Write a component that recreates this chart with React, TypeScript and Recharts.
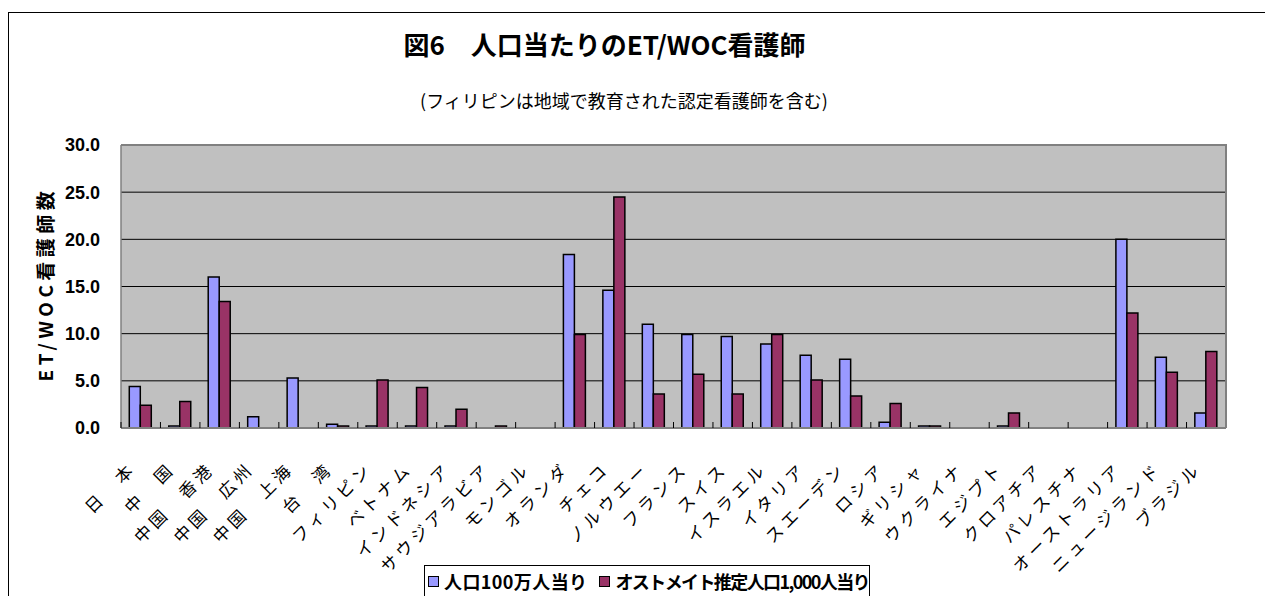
import React from "react"
import { BarChart, Bar, XAxis, YAxis, CartesianGrid, Legend } from "recharts"

const categories = [
  "日　本", "中　国", "中国　香港", "中国　広州", "中国　上海", "台　湾",
  "フィリピン", "ベトナム", "インドネシア", "サウジアラビア", "モンゴル",
  "オランダ", "チェコ", "ノルウエー", "フランス", "スイス", "イスラエル",
  "イタリア", "スエーデン", "ロシア", "ギリシャ", "ウクライナ", "エジプト",
  "クロアチア", "パレスチナ", "オーストラリア", "ニュージランド", "ブラジル",
]

// 人口100万人当り
const perMillion = [
  4.4, 0.2, 16.0, 1.2, 5.3, 0.4, 0.2, 0.2, 0.2, 0, 0, 18.4, 14.6, 11.0,
  9.9, 9.7, 8.9, 7.7, 7.3, 0.6, 0.2, 0, 0.2, 0, 0, 20.0, 7.5, 1.6,
]

// オストメイト推定人口1,000人当り
const perOstomate = [
  2.4, 2.8, 13.4, 0, 0, 0.2, 5.1, 4.3, 2.0, 0.2, 0, 9.9, 24.5, 3.6,
  5.7, 3.6, 9.9, 5.1, 3.4, 2.6, 0.2, 0, 1.6, 0, 0, 12.2, 5.9, 8.1,
]

const yTicks = [0, 5, 10, 15, 20, 25, 30]
const gridValues = [5, 10, 15, 20, 25]

const seriesNames = ["人口100万人当り", "オストメイト推定人口1,000人当り"]

const data = categories.map((name, i) => ({
  name,
  a: perMillion[i],
  b: perOstomate[i],
}))

const PLOT_LEFT = 121
const PLOT_RIGHT = 1226
const PLOT_TOP = 145
const PLOT_BOTTOM = 428
const BAND = (PLOT_RIGHT - PLOT_LEFT) / categories.length
const LEGEND_H = 40

const JP = '"Noto Sans CJK JP", "Noto Sans", sans-serif'

function XTick(props: any) {
  const { x, y, payload, index } = props
  const left = x - BAND / 2
  const last = index === categories.length - 1
  return (
    <g>
      <line x1={left} x2={left} y1={y} y2={y - 6} stroke="#000" strokeWidth={1} />
      {last && (
        <line x1={left + BAND} x2={left + BAND} y1={y} y2={y - 6} stroke="#000" strokeWidth={1} />
      )}
      <text
        transform={`translate(${x - 4},${y + 42}) rotate(-45)`}
        textAnchor="end"
        fontSize={17}
        letterSpacing={4}
        fontFamily={JP}
        fill="#000"
      >
        {payload.value}
      </text>
    </g>
  )
}

function LegendBox() {
  const colors = ["#9999FF", "#993366"]
  const widths = [178, undefined]
  const spacing = [0.4, -1.6]
  return (
    <div
      style={{
        border: "1.5px solid #000",
        borderBottom: "none",
        height: LEGEND_H,
        boxSizing: "border-box",
        display: "flex",
        alignItems: "flex-start",
        paddingTop: 2,
        paddingLeft: 3,
        fontFamily: JP,
        fontWeight: 700,
        fontSize: 18,
        whiteSpace: "nowrap",
        overflow: "hidden",
      }}
    >
      {seriesNames.map((n, i) => (
        <span
          key={n}
          style={{ display: "inline-flex", alignItems: "center", width: widths[i], letterSpacing: spacing[i] }}
        >
          <span
            style={{
              display: "inline-block",
              width: 9,
              height: 9,
              background: colors[i],
              border: "1px solid #000",
              marginRight: 5,
            }}
          />
          {n}
        </span>
      ))}
    </div>
  )
}

export default function App() {
  return (
    <div style={{ position: "absolute", left: 0, top: 0, width: 1265, height: 596, overflow: "hidden", background: "#fff" }}>
      <div
        style={{
          position: "absolute",
          left: 8,
          top: 12,
          width: 1300,
          height: 700,
          borderLeft: "1.5px solid #000",
          borderTop: "1.5px solid #000",
        }}
      />
      <div
        style={{
          position: "absolute",
          left: 0,
          width: 1209,
          top: 28,
          textAlign: "center",
          fontFamily: JP,
          fontWeight: 700,
          fontSize: 26,
          lineHeight: "32px",
        }}
      >
        図6　人口当たりのET/WOC看護師
      </div>
      <div
        style={{
          position: "absolute",
          left: 0,
          width: 1248,
          top: 88,
          textAlign: "center",
          fontFamily: JP,
          fontSize: 18,
          lineHeight: "24px",
        }}
      >
        (フィリピンは地域で教育された認定看護師を含む)
      </div>
      <div
        style={{
          position: "absolute",
          left: 45 - 120,
          top: 284 - 12,
          width: 240,
          height: 24,
          lineHeight: "24px",
          textAlign: "center",
          transform: "rotate(-90deg)",
          fontFamily: JP,
          fontWeight: 700,
          fontSize: 19,
          letterSpacing: 4.5,
        }}
      >
        ET/WOC看護師数
      </div>
      <div style={{ position: "absolute", left: 0, top: 0 }}>
        <BarChart
          width={1265}
          height={596}
          data={data}
          margin={{ top: PLOT_TOP, right: 1265 - PLOT_RIGHT, bottom: 38, left: PLOT_LEFT - 60 }}
          barCategoryGap="21%"
          barGap={0}
        >
          <CartesianGrid
            vertical={false}
            horizontalValues={gridValues}
            stroke="#000"
            strokeWidth={1}
            fill="#C0C0C0"
            fillOpacity={1}
          />
          <XAxis
            dataKey="name"
            interval={0}
            height={596 - PLOT_BOTTOM - 38 - LEGEND_H}
            tickLine={false}
            tickSize={0}
            tickMargin={0}
            axisLine={{ stroke: "#808080", strokeWidth: 2 }}
            tick={<XTick />}
          />
          <YAxis
            domain={[0, 30]}
            ticks={yTicks}
            width={60}
            tickLine={false}
            tickSize={0}
            tickMargin={21}
            axisLine={{ stroke: "#808080", strokeWidth: 1.5 }}
            tickFormatter={(v: number) => v.toFixed(1)}
            tick={{ fill: "#000", fontSize: 18, fontWeight: 700, fontFamily: "Liberation Sans, Arial, sans-serif" }}
          />
          <Bar dataKey="a" name={seriesNames[0]} fill="#9999FF" stroke="#000" strokeWidth={1.5} isAnimationActive={false} />
          <Bar dataKey="b" name={seriesNames[1]} fill="#993366" stroke="#000" strokeWidth={1.5} isAnimationActive={false} />
          <Legend
            content={<LegendBox />}
            wrapperStyle={{ position: "absolute", left: 424, top: 565, width: 446, height: LEGEND_H, bottom: "auto" }}
          />
        </BarChart>
      </div>
      <div
        style={{
          position: "absolute",
          left: PLOT_LEFT,
          top: PLOT_TOP - 1,
          width: PLOT_RIGHT - PLOT_LEFT + 1,
          height: PLOT_BOTTOM - PLOT_TOP + 1,
          borderTop: "2px solid #808080",
          borderRight: "2px solid #808080",
          boxSizing: "border-box",
          pointerEvents: "none",
        }}
      />
    </div>
  )
}
